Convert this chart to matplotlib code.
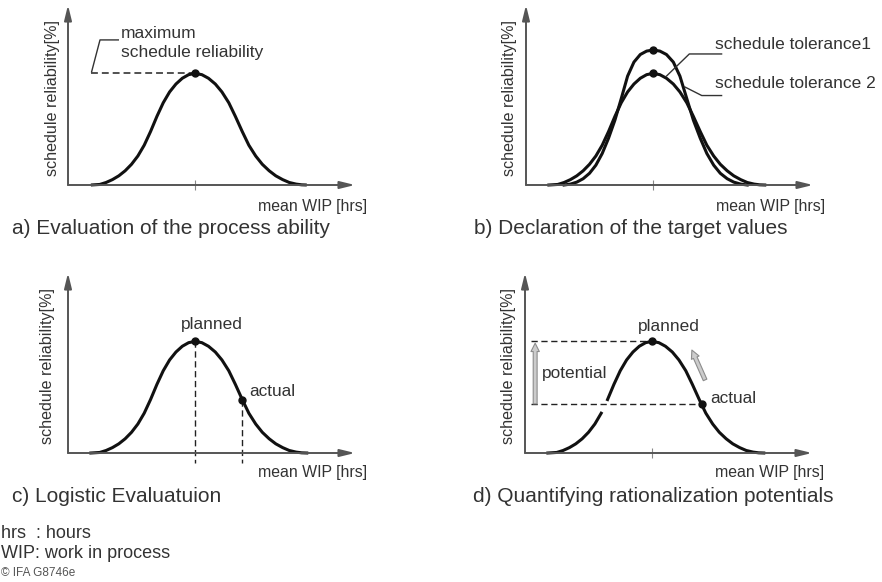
import matplotlib
matplotlib.use("Agg")
import matplotlib.pyplot as plt

plt.rcParams['font.family'] = ['Liberation Sans', 'DejaVu Sans']

wip = [0.9, 1.25, 1.5, 1.75, 2.0, 2.25, 2.5, 2.75, 3.0, 3.25, 3.5, 3.75, 4.0, 4.25, 4.5, 4.75, 5.0,
       5.27, 5.53, 5.8, 6.06, 6.33, 6.59, 6.86, 7.12, 7.39, 7.65, 7.92, 8.18, 8.45, 8.71, 8.98, 9.2, 9.4]
reliability = [0.0, 0.3, 1.4, 3.0, 5.1, 7.9, 11.5, 16.1, 22.1, 29.7, 38.1, 45.7, 51.7, 56.1, 59.3, 61.3, 62.0,
               61.3, 59.3, 56.1, 51.7, 45.7, 38.1, 29.7, 22.1, 16.1, 11.5, 7.9, 5.1, 3.0, 1.4, 0.5, 0.1, 0.0]

# narrower, taller curve of panel b (schedule tolerance 1)
wip_tol1 = [1.5, 1.75, 2.0, 2.25, 2.5, 2.75, 3.0, 3.25, 3.5, 3.75, 4.0, 4.25, 4.5, 4.75, 5.0,
            5.27, 5.53, 5.8, 6.06, 6.33, 6.59, 6.86, 7.12, 7.39, 7.65, 7.92, 8.18, 8.45, 8.71]
reliability_tol1 = [0.0, 0.5, 1.6, 3.5, 6.5, 11.0, 17.5, 26.0, 36.0, 48.0, 60.5, 68.3, 72.5, 74.4, 75.0,
                    74.4, 72.5, 68.3, 60.5, 48.0, 36.0, 26.0, 17.5, 11.0, 6.5, 3.5, 1.6, 0.5, 0.0]

planned = (5.0, 62.0)
actual_c = (6.86, 29.7)
actual_d = (6.95, 27.1)

ylabel = 'schedule reliability[%]'
xlabel = 'mean WIP [hrs]'
captions = ['a) Evaluation of the process ability', 'b) Declaration of the target values',
            'c) Logistic Evaluatuion', 'd) Quantifying rationalization potentials']
notes = ['hrs  : hours', 'WIP: work in process']
copyright_note = '\u00a9 IFA G8746e'

W, H = 882, 582
PX_X, PX_Y = 25.4, 1.8
TXT = '#333333'
CURVE = '#111111'

fig = plt.figure(figsize=(W / 100, H / 100), dpi=100)

axis_arrow = dict(arrowstyle='-|>,head_length=0.9,head_width=0.22', color='#555555',
                  lw=1.4, shrinkA=0, shrinkB=0)


def panel(left, base, ylab_x, xlab_y, tick=True):
    ax = fig.add_axes([left / W, (H - base) / H, 11.3 * PX_X / W, 100 * PX_Y / H])
    ax.set_xlim(0, 11.3)
    ax.set_ylim(0, 100)
    ax.patch.set_alpha(0)
    for s in ax.spines.values():
        s.set_visible(False)
    ax.set_yticks([])
    if tick:
        ax.set_xticks([planned[0]])
        ax.set_xticklabels([])
        ax.tick_params(axis='x', direction='inout', length=7, width=0.8, color='#888888')
    else:
        ax.set_xticks([])
    ax.annotate('', xy=(1, 0), xytext=(0, 0), xycoords='axes fraction', arrowprops=axis_arrow)
    ax.annotate('', xy=(0, 1), xytext=(0, 0), xycoords='axes fraction', arrowprops=axis_arrow)
    ax.text(ylab_x, 0.485, ylabel, transform=ax.transAxes, rotation=90, ha='center', va='center',
            fontsize=11.6, color=TXT)
    ax.text(1.042, xlab_y, xlabel, transform=ax.transAxes, ha='right', va='center',
            fontsize=11.4, color=TXT)
    return ax


def caption(x, y, s, size=15, color=TXT):
    fig.text(x / W, 1 - y / H, s, ha='left', va='center', fontsize=size, color=color)


dash = (0, (4.5, 2.6))

# a) Evaluation of the process ability
ax = panel(68, 185, -0.054, -0.12)
ax.plot([wip[0], planned[0]], [planned[1], planned[1]], color='#222222', lw=1.1, ls=dash)
ax.plot(wip, reliability, color=CURVE, lw=2.2, clip_on=False, solid_capstyle='butt')
ax.plot(*planned, 'o', color=CURVE, ms=5)
ax.plot([0.93, 1.26, 1.98], [62.9, 80.6, 80.6], color='#333333', lw=1.0)
ax.text(2.09, 81.5, 'maximum', fontsize=12.5, color=TXT, va='baseline')
ax.text(2.09, 71.3, 'schedule reliability', fontsize=12.5, color=TXT, va='baseline')

# b) Declaration of the target values
ax = panel(526, 185, -0.057, -0.12)
ax.plot(wip, reliability, color=CURVE, lw=2.2, clip_on=False)
ax.plot(wip_tol1, reliability_tol1, color=CURVE, lw=2.2, clip_on=False)
ax.plot(planned[0], max(reliability_tol1), 'o', color=CURVE, ms=5)
ax.plot(*planned, 'o', color=CURVE, ms=5)
ax.plot([7.70, 6.43, 5.53], [72.8, 72.8, 60.5], color='#333333', lw=1.0)
ax.plot([7.70, 6.92, 6.25], [49.7, 49.7, 54.5], color='#333333', lw=1.0)
ax.text(7.44, 75.4, 'schedule tolerance1', fontsize=12.5, color=TXT, va='baseline')
ax.text(7.44, 53.7, 'schedule tolerance 2', fontsize=12.5, color=TXT, va='baseline')

# c) Logistic Evaluatuion
ax = panel(68, 453, -0.071, -0.109, tick=False)
ax.plot([planned[0], planned[0]], [planned[1], -5.6], color='#222222', lw=1.0, ls=dash, clip_on=False)
ax.plot([actual_c[0], actual_c[0]], [actual_c[1], -5.6], color='#222222', lw=1.0, ls=dash, clip_on=False)
ax.plot(wip, reliability, color=CURVE, lw=2.2, clip_on=False)
ax.plot(*planned, 'o', color=CURVE, ms=5)
ax.plot(*actual_c, 'o', color=CURVE, ms=5)
ax.text(5.67, 68.7, 'planned', fontsize=12.4, color=TXT, ha='center', va='baseline')
ax.text(7.13, 31.8, 'actual', fontsize=12.4, color=TXT, va='baseline')

# d) Quantifying rationalization potentials
ax = panel(525, 453, -0.056, -0.109)
ax.plot([0.24, planned[0]], [planned[1], planned[1]], color='#222222', lw=1.0, ls=dash)
ax.plot([0.24, actual_d[0]], [actual_d[1], actual_d[1]], color='#222222', lw=1.0, ls=dash)
left_part = [i for i, x in enumerate(wip) if x <= 3.0]
right_part = [i for i, x in enumerate(wip) if x >= 3.25]
ax.plot([wip[i] for i in left_part], [reliability[i] for i in left_part], color=CURVE, lw=2.2, clip_on=False)
ax.plot([wip[i] for i in right_part], [reliability[i] for i in right_part], color=CURVE, lw=2.2, clip_on=False)
ax.plot(*planned, 'o', color=CURVE, ms=5)
ax.plot(*actual_d, 'o', color=CURVE, ms=5)
gray_arrow = dict(arrowstyle='simple,head_length=0.6,head_width=0.6,tail_width=0.28',
                  fc='#cccccc', ec='#8c8c8c', lw=0.8, shrinkA=0, shrinkB=0)
ax.annotate('', xy=(0.4, 61.0), xytext=(0.4, 27.3), arrowprops=gray_arrow)
ax.annotate('', xy=(6.57, 57.2), xytext=(7.09, 40.6), arrowprops=gray_arrow)
ax.text(5.67, 67.8, 'planned', fontsize=12.4, color=TXT, ha='center', va='baseline')
ax.text(7.28, 27.6, 'actual', fontsize=12.4, color=TXT, va='baseline')
ax.text(0.67, 41.5, 'potential', fontsize=12.4, color=TXT, va='baseline')

# captions and notes
caption(12, 229, captions[0])
caption(474, 229, captions[1])
caption(12, 497, captions[2])
caption(473, 497, captions[3])
caption(1, 533, notes[0], size=13)
caption(1, 553, notes[1], size=13)
caption(1, 573, copyright_note, size=8.5, color='#555555')

fig.savefig('out.png', dpi=100, facecolor='white')
